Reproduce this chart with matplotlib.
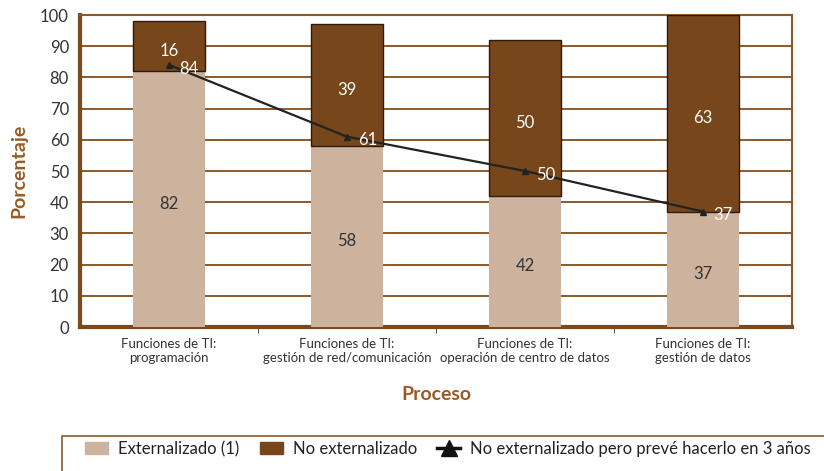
import matplotlib.pyplot as plt
import numpy as np
from matplotlib.lines import Line2D
from matplotlib.patches import Patch, Rectangle

plt.rcParams['font.family'] = ['Lato', 'DejaVu Sans']

# datos
procesos = ["Funciones de TI:\nprogramación",
            "Funciones de TI:\ngestión de red/comunicación",
            "Funciones de TI:\noperación de centro de datos",
            "Funciones de TI:\ngestión de datos"]
externalizado = [82, 58, 42, 37]
no_externalizado = [16, 39, 50, 63]
preve_3_anos = [84, 61, 50, 37]

claro = "#cdb39d"
oscuro = "#78461b"
marron = "#7a4a1e"

fig = plt.figure(figsize=(8.24, 4.71), dpi=100)
ax = fig.add_axes([80/824, 1-327/471, 712/824, 312/471])

x = np.arange(len(procesos))
ax.bar(x, externalizado, width=0.4, color=claro, zorder=3)
ax.bar(x, no_externalizado, width=0.4, bottom=externalizado, color=oscuro,
       edgecolor="#2a1a10", linewidth=1, zorder=3)
ax.plot(x, preve_3_anos, color="#222222", lw=1.6, marker="^", ms=5, zorder=5)

for i in range(len(x)):
    ax.text(x[i], externalizado[i]/2 - 1.5, str(externalizado[i]), ha="center", va="center",
            fontsize=12, color="#333333", zorder=6)
    ax.text(x[i], externalizado[i] + no_externalizado[i]/2 - 1.5, str(no_externalizado[i]),
            ha="center", va="center", fontsize=12, color="white", zorder=6)
    ax.text(x[i] + 0.06, preve_3_anos[i] - 1.2, str(preve_3_anos[i]), ha="left", va="center",
            fontsize=12, color="white", zorder=6)

ax.set_xlim(-0.5, 3.5)
ax.set_ylim(0, 100)
ax.set_yticks(range(0, 101, 10))
ax.tick_params(axis="y", length=0, labelsize=12, labelcolor="#333333", pad=8)
ax.set_xticks(x)
ax.set_xticklabels(procesos, fontsize=9.5, color="#333333", linespacing=1.15)
ax.tick_params(axis="x", length=0, pad=8)
ax.set_xticks([0.5, 1.5, 2.5], minor=True)
ax.tick_params(axis="x", which="minor", length=4, color="#333333")
ax.yaxis.grid(True, color="#8b5a2b", lw=1.4, zorder=0)
ax.set_axisbelow(True)

for s in ["left", "bottom"]:
    ax.spines[s].set_color(marron)
    ax.spines[s].set_linewidth(3)
for s in ["top", "right"]:
    ax.spines[s].set_color("#8b5a2b")
    ax.spines[s].set_linewidth(1.5)

ax.set_ylabel("Porcentaje", fontsize=14, color="#9a5a24", fontweight="bold", labelpad=9)
ax.set_xlabel("Proceso", fontsize=14, color="#9a5a24", fontweight="bold", labelpad=16)

# leyenda
fig.patches.append(Rectangle((62/824, -0.05), 0.99, 0.125, transform=fig.transFigure,
                             fill=False, edgecolor="#8b5a2b", lw=1.2))
handles = [Patch(color=claro), Patch(color=oscuro),
           Line2D([], [], color="#111111", lw=2.5, marker="^", ms=11)]
labels = ["Externalizado (1)", "No externalizado", "No externalizado pero prevé hacerlo en 3 años"]
fig.legend(handles, labels, loc="center left", bbox_to_anchor=(70/824, 22/471), ncol=3,
           frameon=False, fontsize=12, handlelength=1.4, handletextpad=0.6,
           columnspacing=1.2, labelcolor="#222222")

plt.savefig("out.png", dpi=100)
